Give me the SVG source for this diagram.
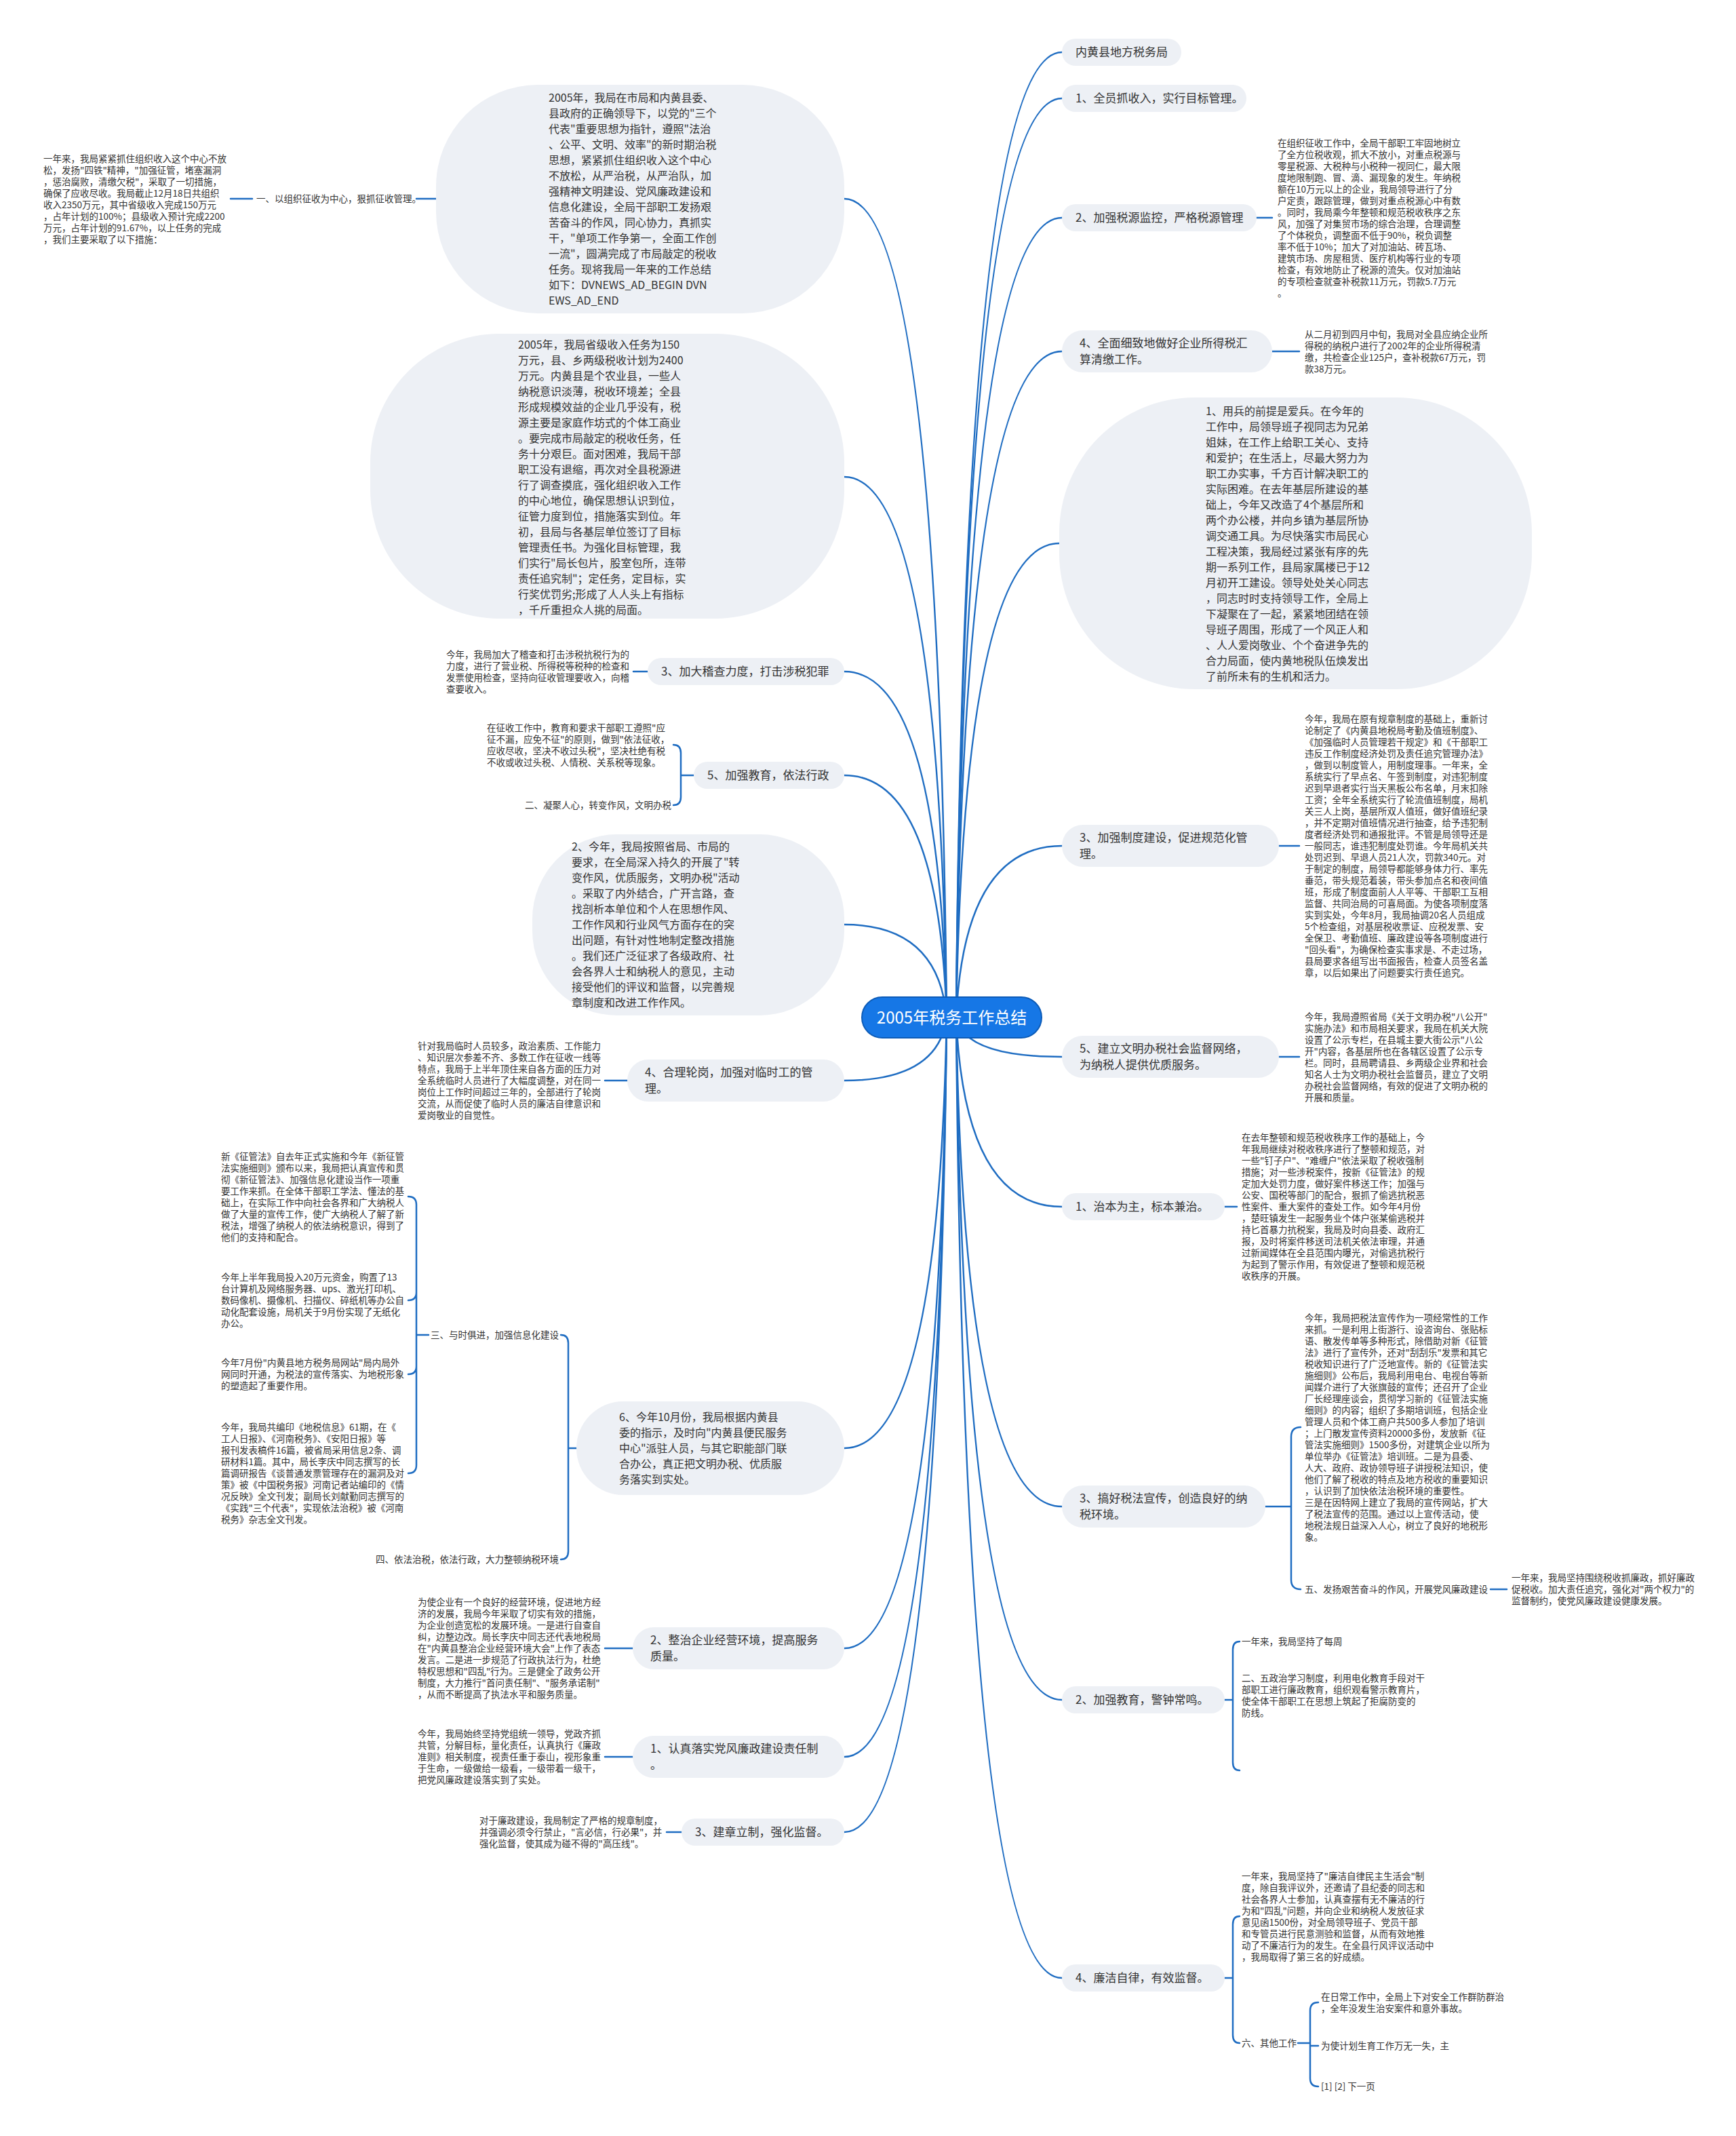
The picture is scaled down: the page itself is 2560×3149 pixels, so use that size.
<svg xmlns="http://www.w3.org/2000/svg" width="2560" height="3149" viewBox="0 0 2560 3149">
<style>
text{font-family:"Noto Sans CJK SC","Noto Sans",sans-serif;fill:#333}
.ln{fill:none;stroke:#1f6dc2;stroke-width:2.5;stroke-linecap:round}
.nd{fill:#edf0f5}
.lb{font-size:17px}
.bt{font-size:16px}
.st{font-size:13.5px}
</style>
<rect width="2560" height="3149" fill="#ffffff"/>
<g id="connectors">
<path class="ln" d="M1410 1500 Q1422 77 1566 77"/>
<path class="ln" d="M1410 1500 Q1422 145 1566 145"/>
<path class="ln" d="M1410 1500 Q1422 321 1566 321"/>
<path class="ln" d="M1410 1500 Q1422 518 1566 518"/>
<path class="ln" d="M1410 1500 Q1422 801 1562 801"/>
<path class="ln" d="M1410 1500 Q1422 1247 1566 1247"/>
<path class="ln" d="M1410 1500 Q1422 1558 1566 1558"/>
<path class="ln" d="M1410 1500 Q1422 1779 1566 1779"/>
<path class="ln" d="M1410 1500 Q1422 2221 1566 2221"/>
<path class="ln" d="M1410 1500 Q1422 2506 1566 2506"/>
<path class="ln" d="M1410 1500 Q1422 2916 1566 2916"/>
<path class="ln" d="M1396 1500 Q1384 293 1245 293"/>
<path class="ln" d="M1396 1500 Q1384 703 1245 703"/>
<path class="ln" d="M1396 1500 Q1384 990 1245 990"/>
<path class="ln" d="M1396 1500 Q1384 1143 1245 1143"/>
<path class="ln" d="M1396 1500 Q1384 1363 1245 1363"/>
<path class="ln" d="M1396 1500 Q1384 1593 1245 1593"/>
<path class="ln" d="M1396 1500 Q1384 2135 1245 2135"/>
<path class="ln" d="M1396 1500 Q1384 2430 1245 2430"/>
<path class="ln" d="M1396 1500 Q1384 2590 1245 2590"/>
<path class="ln" d="M1396 1500 Q1384 2701 1245 2701"/>
<path class="ln" d="M1853 321 H1876"/>
<path class="ln" d="M1876 518 H1916"/>
<path class="ln" d="M1886 1247 H1916"/>
<path class="ln" d="M1886 1558 H1916"/>
<path class="ln" d="M1806 1779 H1824"/>
<path class="ln" d="M1866 2221 H1904 M1918 2104 Q1904 2104 1904 2118 V2329 Q1904 2343 1918 2343"/>
<path class="ln" d="M2198 2343 H2222"/>
<path class="ln" d="M1806 2506 H1818 M1828 2420 Q1818 2420 1818 2432 V2598 Q1818 2610 1828 2610"/>
<path class="ln" d="M1806 2916 H1818 M1828 2825 Q1818 2825 1818 2837 V3000 Q1818 3012 1828 3012"/>
<path class="ln" d="M1914 3012 H1932 M1944 2952 Q1932 2952 1932 2964 V3064 Q1932 3076 1944 3076 M1932 3016 H1944"/>
<path class="ln" d="M643 293 H614"/>
<path class="ln" d="M372 293 H340"/>
<path class="ln" d="M955 990 H934"/>
<path class="ln" d="M1023 1143 H1004 M993 1098 Q1004 1098 1004 1110 V1175 Q1004 1187 993 1187"/>
<path class="ln" d="M925 1593 H892"/>
<path class="ln" d="M850 2135 H838 M827 1968 Q838 1968 838 1980 V2287 Q838 2299 827 2299"/>
<path class="ln" d="M632 1968 H614 M602 1764 Q614 1764 614 1776 V2160 Q614 2172 602 2172 M614 1905 Q614 1917 602 1917 M614 2014 Q614 2026 602 2026"/>
<path class="ln" d="M933 2430 H892"/>
<path class="ln" d="M933 2590 H892"/>
<path class="ln" d="M1005 2701 H983"/>
</g>
<g id="center">
<rect x="1271" y="1470" width="265" height="60" rx="30" fill="#1677e6" stroke="#0d5cb8" stroke-width="2"/>
<text x="1403.5" y="1509" font-size="24" text-anchor="middle" style="fill:#ffffff">2005年税务工作总结</text>
</g>
<g id="r1"><rect class="nd" x="1566" y="57" width="176" height="40" rx="20"/><text class="lb" x="1586" y="83">内黄县地方税务局</text></g>
<g id="r2"><rect class="nd" x="1566" y="125" width="272" height="40" rx="20"/><text class="lb" x="1586" y="151">1、全员抓收入，实行目标管理。</text></g>
<g id="r3"><rect class="nd" x="1566" y="301" width="287" height="40" rx="20"/><text class="lb" x="1586" y="327">2、加强税源监控，严格税源管理</text>
<text class="st" x="1884" y="215.5"><tspan x="1884">在组织征收工作中，全局干部职工牢固地树立</tspan><tspan x="1884" dy="17">了全方位税收观，抓大不放小，对重点税源与</tspan><tspan x="1884" dy="17">零星税源、大税种与小税种一视同仁，最大限</tspan><tspan x="1884" dy="17">度地限制跑、冒、滴、漏现象的发生。年纳税</tspan><tspan x="1884" dy="17">额在10万元以上的企业，我局领导进行了分</tspan><tspan x="1884" dy="17">户定责，跟踪管理，做到对重点税源心中有数</tspan><tspan x="1884" dy="17">。同时，我局乘今年整顿和规范税收秩序之东</tspan><tspan x="1884" dy="17">风，加强了对集贸市场的综合治理，合理调整</tspan><tspan x="1884" dy="17">了个体税负，调整面不低于90%，税负调整</tspan><tspan x="1884" dy="17">率不低于10%；加大了对加油站、砖瓦场、</tspan><tspan x="1884" dy="17">建筑市场、房屋租赁、医疗机构等行业的专项</tspan><tspan x="1884" dy="17">检查，有效地防止了税源的流失。仅对加油站</tspan><tspan x="1884" dy="17">的专项检查就查补税款11万元，罚款5.7万元</tspan><tspan x="1884" dy="17">。</tspan></text></g>
<g id="r4"><rect class="nd" x="1566" y="487" width="310" height="62" rx="31"/><text class="lb" x="1592"><tspan x="1592" y="512">4、全面细致地做好企业所得税汇</tspan><tspan x="1592" y="536">算清缴工作。</tspan></text>
<text class="st" x="1924" y="497.5"><tspan x="1924">从二月初到四月中旬，我局对全县应纳企业所</tspan><tspan x="1924" dy="17">得税的纳税户进行了2002年的企业所得税清</tspan><tspan x="1924" dy="17">缴，共检查企业125户，查补税款67万元，罚</tspan><tspan x="1924" dy="17">款38万元。</tspan></text></g>
<g id="r5"><rect class="nd" x="1562" y="586" width="697" height="430" rx="200"/>
<text class="bt" x="1778" y="611.5"><tspan x="1778">1、用兵的前提是爱兵。在今年的</tspan><tspan x="1778" dy="23">工作中，局领导班子视同志为兄弟</tspan><tspan x="1778" dy="23">姐妹，在工作上给职工关心、支持</tspan><tspan x="1778" dy="23">和爱护；在生活上，尽最大努力为</tspan><tspan x="1778" dy="23">职工办实事，千方百计解决职工的</tspan><tspan x="1778" dy="23">实际困难。在去年基层所建设的基</tspan><tspan x="1778" dy="23">础上，今年又改造了4个基层所和</tspan><tspan x="1778" dy="23">两个办公楼，并向乡镇为基层所协</tspan><tspan x="1778" dy="23">调交通工具。为尽快落实市局民心</tspan><tspan x="1778" dy="23">工程决策，我局经过紧张有序的先</tspan><tspan x="1778" dy="23">期一系列工作，县局家属楼已于12</tspan><tspan x="1778" dy="23">月初开工建设。领导处处关心同志</tspan><tspan x="1778" dy="23">，同志时时支持领导工作，全局上</tspan><tspan x="1778" dy="23">下凝聚在了一起，紧紧地团结在领</tspan><tspan x="1778" dy="23">导班子周围，形成了一个风正人和</tspan><tspan x="1778" dy="23">、人人爱岗敬业、个个奋进争先的</tspan><tspan x="1778" dy="23">合力局面，使内黄地税队伍焕发出</tspan><tspan x="1778" dy="23">了前所未有的生机和活力。</tspan></text></g>
<g id="r6"><rect class="nd" x="1566" y="1216" width="320" height="62" rx="31"/><text class="lb"><tspan x="1592" y="1241">3、加强制度建设，促进规范化管</tspan><tspan x="1592" y="1265">理。</tspan></text>
<text class="st" x="1924" y="1065"><tspan x="1924">今年，我局在原有规章制度的基础上，重新讨</tspan><tspan x="1924" dy="17">论制定了《内黄县地税局考勤及值班制度》、</tspan><tspan x="1924" dy="17">《加强临时人员管理若干规定》和《干部职工</tspan><tspan x="1924" dy="17">违反工作制度经济处罚及责任追究管理办法》</tspan><tspan x="1924" dy="17">，做到以制度管人，用制度理事。一年来，全</tspan><tspan x="1924" dy="17">系统实行了早点名、午签到制度，对违犯制度</tspan><tspan x="1924" dy="17">迟到早退者实行当天黑板公布名单，月末扣除</tspan><tspan x="1924" dy="17">工资；全年全系统实行了轮流值班制度，局机</tspan><tspan x="1924" dy="17">关三人上岗，基层所双人值班，做好值班纪录</tspan><tspan x="1924" dy="17">，并不定期对值班情况进行抽查，给予违犯制</tspan><tspan x="1924" dy="17">度者经济处罚和通报批评。不管是局领导还是</tspan><tspan x="1924" dy="17">一般同志，谁违犯制度处罚谁。今年局机关共</tspan><tspan x="1924" dy="17">处罚迟到、早退人员21人次，罚款340元。对</tspan><tspan x="1924" dy="17">于制定的制度，局领导都能够身体力行、率先</tspan><tspan x="1924" dy="17">垂范，带头规范着装，带头参加点名和夜间值</tspan><tspan x="1924" dy="17">班，形成了制度面前人人平等、干部职工互相</tspan><tspan x="1924" dy="17">监督、共同治局的可喜局面。为使各项制度落</tspan><tspan x="1924" dy="17">实到实处，今年8月，我局抽调20名人员组成</tspan><tspan x="1924" dy="17">5个检查组，对基层税收票证、应税发票、安</tspan><tspan x="1924" dy="17">全保卫、考勤值班、廉政建设等各项制度进行</tspan><tspan x="1924" dy="17">"回头看"，为确保检查实事求是、不走过场，</tspan><tspan x="1924" dy="17">县局要求各组写出书面报告，检查人员签名盖</tspan><tspan x="1924" dy="17">章，以后如果出了问题要实行责任追究。</tspan></text></g>
<g id="r7"><rect class="nd" x="1566" y="1527" width="320" height="62" rx="31"/><text class="lb"><tspan x="1592" y="1552">5、建立文明办税社会监督网络，</tspan><tspan x="1592" y="1576">为纳税人提供优质服务。</tspan></text>
<text class="st" x="1924" y="1503.5"><tspan x="1924">今年，我局遵照省局《关于文明办税"八公开"</tspan><tspan x="1924" dy="17">实施办法》和市局相关要求，我局在机关大院</tspan><tspan x="1924" dy="17">设置了公示专栏，在县城主要大街公示"八公</tspan><tspan x="1924" dy="17">开"内容，各基层所也在各辖区设置了公示专</tspan><tspan x="1924" dy="17">栏。同时，县局聘请县、乡两级企业界和社会</tspan><tspan x="1924" dy="17">知名人士为文明办税社会监督员，建立了文明</tspan><tspan x="1924" dy="17">办税社会监督网络，有效的促进了文明办税的</tspan><tspan x="1924" dy="17">开展和质量。</tspan></text></g>
<g id="r8"><rect class="nd" x="1566" y="1759" width="240" height="40" rx="20"/><text class="lb" x="1586" y="1785">1、治本为主，标本兼治。</text>
<text class="st" x="1831" y="1682"><tspan x="1831">在去年整顿和规范税收秩序工作的基础上，今</tspan><tspan x="1831" dy="17">年我局继续对税收秩序进行了整顿和规范，对</tspan><tspan x="1831" dy="17">一些"钉子户"、"难缠户"依法采取了税收强制</tspan><tspan x="1831" dy="17">措施；对一些涉税案件，按新《征管法》的规</tspan><tspan x="1831" dy="17">定加大处罚力度，做好案件移送工作；加强与</tspan><tspan x="1831" dy="17">公安、国税等部门的配合，狠抓了偷逃抗税恶</tspan><tspan x="1831" dy="17">性案件、重大案件的查处工作。如今年4月份</tspan><tspan x="1831" dy="17">，楚旺镇发生一起服务业个体户张某偷逃税并</tspan><tspan x="1831" dy="17">持匕首暴力抗税案，我局及时向县委、政府汇</tspan><tspan x="1831" dy="17">报，及时将案件移送司法机关依法审理，并通</tspan><tspan x="1831" dy="17">过新闻媒体在全县范围内曝光，对偷逃抗税行</tspan><tspan x="1831" dy="17">为起到了警示作用，有效促进了整顿和规范税</tspan><tspan x="1831" dy="17">收秩序的开展。</tspan></text></g>
<g id="r9"><rect class="nd" x="1566" y="2190" width="300" height="62" rx="31"/><text class="lb"><tspan x="1592" y="2215">3、搞好税法宣传，创造良好的纳</tspan><tspan x="1592" y="2239">税环境。</tspan></text>
<text class="st" x="1924" y="1947.5"><tspan x="1924">今年，我局把税法宣传作为一项经常性的工作</tspan><tspan x="1924" dy="17">来抓。一是利用上街游行、设咨询台、张贴标</tspan><tspan x="1924" dy="17">语、散发传单等多种形式，除借助对新《征管</tspan><tspan x="1924" dy="17">法》进行了宣传外，还对"刮刮乐"发票和其它</tspan><tspan x="1924" dy="17">税收知识进行了广泛地宣传。新的《征管法实</tspan><tspan x="1924" dy="17">施细则》公布后，我局利用电台、电视台等新</tspan><tspan x="1924" dy="17">闻媒介进行了大张旗鼓的宣传；还召开了企业</tspan><tspan x="1924" dy="17">厂长经理座谈会，贯彻学习新的《征管法实施</tspan><tspan x="1924" dy="17">细则》的内容；组织了多期培训班，包括企业</tspan><tspan x="1924" dy="17">管理人员和个体工商户共500多人参加了培训</tspan><tspan x="1924" dy="17">；上门散发宣传资料20000多份，发放新《征</tspan><tspan x="1924" dy="17">管法实施细则》1500多份，对建筑企业以所为</tspan><tspan x="1924" dy="17">单位举办《征管法》培训班。二是为县委、</tspan><tspan x="1924" dy="17">人大、政府、政协领导班子讲授税法知识，使</tspan><tspan x="1924" dy="17">他们了解了税收的特点及地方税收的重要知识</tspan><tspan x="1924" dy="17">，认识到了加快依法治税环境的重要性。</tspan><tspan x="1924" dy="17">三是在因特网上建立了我局的宣传网站，扩大</tspan><tspan x="1924" dy="17">了税法宣传的范围。通过以上宣传活动，使</tspan><tspan x="1924" dy="17">地税法规日益深入人心，树立了良好的地税形</tspan><tspan x="1924" dy="17">象。</tspan></text>
<text class="st" x="1924" y="2348">五、发扬艰苦奋斗的作风，开展党风廉政建设</text>
<text class="st" x="2229" y="2331"><tspan x="2229">一年来，我局坚持围绕税收抓廉政，抓好廉政</tspan><tspan x="2229" dy="17">促税收。加大责任追究，强化对"两个权力"的</tspan><tspan x="2229" dy="17">监督制约，使党风廉政建设健康发展。</tspan></text></g>
<g id="r10"><rect class="nd" x="1566" y="2486" width="240" height="40" rx="20"/><text class="lb" x="1586" y="2512">2、加强教育，警钟常鸣。</text>
<text class="st" x="1831" y="2425">一年来，我局坚持了每周</text>
<text class="st" x="1831" y="2479"><tspan x="1831">二、五政治学习制度，利用电化教育手段对干</tspan><tspan x="1831" dy="17">部职工进行廉政教育，组织观看警示教育片，</tspan><tspan x="1831" dy="17">使全体干部职工在思想上筑起了拒腐防变的</tspan><tspan x="1831" dy="17">防线。</tspan></text></g>
<g id="r11"><rect class="nd" x="1566" y="2896" width="240" height="40" rx="20"/><text class="lb" x="1586" y="2922">4、廉洁自律，有效监督。</text>
<text class="st" x="1831" y="2770.5"><tspan x="1831">一年来，我局坚持了"廉洁自律民主生活会"制</tspan><tspan x="1831" dy="17">度，除自我评议外，还邀请了县纪委的同志和</tspan><tspan x="1831" dy="17">社会各界人士参加，认真查摆有无不廉洁的行</tspan><tspan x="1831" dy="17">为和"四乱"问题，并向企业和纳税人发放征求</tspan><tspan x="1831" dy="17">意见函1500份，对全局领导班子、党员干部</tspan><tspan x="1831" dy="17">和专管员进行民意测验和监督，从而有效地推</tspan><tspan x="1831" dy="17">动了不廉洁行为的发生。在全县行风评议活动中</tspan><tspan x="1831" dy="17">，我局取得了第三名的好成绩。</tspan></text>
<text class="st" x="1831" y="3017">六、其他工作</text>
<text class="st" x="1948" y="2948.5"><tspan x="1948">在日常工作中，全局上下对安全工作群防群治</tspan><tspan x="1948" dy="17">，全年没发生治安案件和意外事故。</tspan></text>
<text class="st" x="1948" y="3021">为使计划生育工作万无一失，主</text>
<text class="st" x="1948" y="3081">[1] [2] 下一页</text></g>
<g id="l1"><rect class="nd" x="643" y="125" width="602" height="337" rx="150"/>
<text class="bt" x="809" y="149.5"><tspan x="809">2005年，我局在市局和内黄县委、</tspan><tspan x="809" dy="23">县政府的正确领导下，以党的"三个</tspan><tspan x="809" dy="23">代表"重要思想为指针，遵照"法治</tspan><tspan x="809" dy="23">、公平、文明、效率"的新时期治税</tspan><tspan x="809" dy="23">思想，紧紧抓住组织收入这个中心</tspan><tspan x="809" dy="23">不放松，从严治税，从严治队，加</tspan><tspan x="809" dy="23">强精神文明建设、党风廉政建设和</tspan><tspan x="809" dy="23">信息化建设，全局干部职工发扬艰</tspan><tspan x="809" dy="23">苦奋斗的作风，同心协力，真抓实</tspan><tspan x="809" dy="23">干，"单项工作争第一，全面工作创</tspan><tspan x="809" dy="23">一流"，圆满完成了市局敲定的税收</tspan><tspan x="809" dy="23">任务。现将我局一年来的工作总结</tspan><tspan x="809" dy="23">如下：DVNEWS_AD_BEGIN DVN</tspan><tspan x="809" dy="23">EWS_AD_END</tspan></text>
<text class="st" x="378" y="298">一、以组织征收为中心，狠抓征收管理。</text>
<text class="st" x="64" y="238.5"><tspan x="64">一年来，我局紧紧抓住组织收入这个中心不放</tspan><tspan x="64" dy="17">松，发扬"四铁"精神，"加强征管，堵塞漏洞</tspan><tspan x="64" dy="17">，惩治腐败，清缴欠税"，采取了一切措施，</tspan><tspan x="64" dy="17">确保了应收尽收。我局截止12月18日共组织</tspan><tspan x="64" dy="17">收入2350万元，其中省级收入完成150万元</tspan><tspan x="64" dy="17">，占年计划的100%；县级收入预计完成2200</tspan><tspan x="64" dy="17">万元，占年计划的91.67%，以上任务的完成</tspan><tspan x="64" dy="17">，我们主要采取了以下措施：</tspan></text></g>
<g id="l2"><rect class="nd" x="546" y="492" width="699" height="420" rx="190"/>
<text class="bt" x="764" y="513.5"><tspan x="764">2005年，我局省级收入任务为150</tspan><tspan x="764" dy="23">万元，县、乡两级税收计划为2400</tspan><tspan x="764" dy="23">万元。内黄县是个农业县，一些人</tspan><tspan x="764" dy="23">纳税意识淡薄，税收环境差；全县</tspan><tspan x="764" dy="23">形成规模效益的企业几乎没有，税</tspan><tspan x="764" dy="23">源主要是家庭作坊式的个体工商业</tspan><tspan x="764" dy="23">。要完成市局敲定的税收任务，任</tspan><tspan x="764" dy="23">务十分艰巨。面对困难，我局干部</tspan><tspan x="764" dy="23">职工没有退缩，再次对全县税源进</tspan><tspan x="764" dy="23">行了调查摸底，强化组织收入工作</tspan><tspan x="764" dy="23">的中心地位，确保思想认识到位，</tspan><tspan x="764" dy="23">征管力度到位，措施落实到位。年</tspan><tspan x="764" dy="23">初，县局与各基层单位签订了目标</tspan><tspan x="764" dy="23">管理责任书。为强化目标管理，我</tspan><tspan x="764" dy="23">们实行"局长包片，股室包所，连带</tspan><tspan x="764" dy="23">责任追究制"；定任务，定目标，实</tspan><tspan x="764" dy="23">行奖优罚劣;形成了人人头上有指标</tspan><tspan x="764" dy="23">，千斤重担众人挑的局面。</tspan></text></g>
<g id="l3"><rect class="nd" x="955" y="970" width="290" height="40" rx="20"/><text class="lb" x="975" y="996">3、加大稽查力度，打击涉税犯罪</text>
<text class="st" x="658" y="969.5"><tspan x="658">今年，我局加大了稽查和打击涉税抗税行为的</tspan><tspan x="658" dy="17">力度，进行了营业税、所得税等税种的检查和</tspan><tspan x="658" dy="17">发票使用检查，坚持向征收管理要收入，向稽</tspan><tspan x="658" dy="17">查要收入。</tspan></text></g>
<g id="l4"><rect class="nd" x="1023" y="1123" width="222" height="40" rx="20"/><text class="lb" x="1043" y="1149">5、加强教育，依法行政</text>
<text class="st" x="718" y="1077.5"><tspan x="718">在征收工作中，教育和要求干部职工遵照"应</tspan><tspan x="718" dy="17">征不漏，应免不征"的原则，做到"依法征收，</tspan><tspan x="718" dy="17">应收尽收，坚决不收过头税"，坚决杜绝有税</tspan><tspan x="718" dy="17">不收或收过头税、人情税、关系税等现象。</tspan></text>
<text class="st" x="774" y="1192">二、凝聚人心，转变作风，文明办税</text></g>
<g id="l5"><rect class="nd" x="785" y="1230" width="460" height="267" rx="125"/>
<text class="bt" x="843" y="1254"><tspan x="843">2、今年，我局按照省局、市局的</tspan><tspan x="843" dy="23">要求，在全局深入持久的开展了"转</tspan><tspan x="843" dy="23">变作风，优质服务，文明办税"活动</tspan><tspan x="843" dy="23">。采取了内外结合，广开言路，查</tspan><tspan x="843" dy="23">找剖析本单位和个人在思想作风、</tspan><tspan x="843" dy="23">工作作风和行业风气方面存在的突</tspan><tspan x="843" dy="23">出问题，有针对性地制定整改措施</tspan><tspan x="843" dy="23">。我们还广泛征求了各级政府、社</tspan><tspan x="843" dy="23">会各界人士和纳税人的意见，主动</tspan><tspan x="843" dy="23">接受他们的评议和监督，以完善规</tspan><tspan x="843" dy="23">章制度和改进工作作风。</tspan></text></g>
<g id="l6"><rect class="nd" x="925" y="1562" width="320" height="62" rx="31"/><text class="lb"><tspan x="951" y="1587">4、合理轮岗，加强对临时工的管</tspan><tspan x="951" y="1611">理。</tspan></text>
<text class="st" x="616" y="1547"><tspan x="616">针对我局临时人员较多，政治素质、工作能力</tspan><tspan x="616" dy="17">、知识层次参差不齐、多数工作在征收一线等</tspan><tspan x="616" dy="17">特点，我局于上半年顶住来自各方面的压力对</tspan><tspan x="616" dy="17">全系统临时人员进行了大幅度调整，对在同一</tspan><tspan x="616" dy="17">岗位上工作时间超过三年的，全部进行了轮岗</tspan><tspan x="616" dy="17">交流，从而促使了临时人员的廉洁自律意识和</tspan><tspan x="616" dy="17">爱岗敬业的自觉性。</tspan></text></g>
<g id="l7"><rect class="nd" x="850" y="2066" width="395" height="138" rx="69"/>
<text class="bt" x="913" y="2095"><tspan x="913">6、今年10月份，我局根据内黄县</tspan><tspan x="913" dy="23">委的指示，及时向"内黄县便民服务</tspan><tspan x="913" dy="23">中心"派驻人员，与其它职能部门联</tspan><tspan x="913" dy="23">合办公，真正把文明办税、优质服</tspan><tspan x="913" dy="23">务落实到实处。</tspan></text>
<text class="st" x="635" y="1973">三、与时俱进，加强信息化建设</text>
<text class="st" x="554" y="2304">四、依法治税，依法行政，大力整顿纳税环境</text>
<text class="st" x="326" y="1709.5"><tspan x="326">新《征管法》自去年正式实施和今年《新征管</tspan><tspan x="326" dy="17">法实施细则》颁布以来，我局把认真宣传和贯</tspan><tspan x="326" dy="17">彻《新征管法》、加强信息化建设当作一项重</tspan><tspan x="326" dy="17">要工作来抓。在全体干部职工学法、懂法的基</tspan><tspan x="326" dy="17">础上，在实际工作中向社会各界和广大纳税人</tspan><tspan x="326" dy="17">做了大量的宣传工作，使广大纳税人了解了新</tspan><tspan x="326" dy="17">税法，增强了纳税人的依法纳税意识，得到了</tspan><tspan x="326" dy="17">他们的支持和配合。</tspan></text>
<text class="st" x="326" y="1888"><tspan x="326">今年上半年我局投入20万元资金，购置了13</tspan><tspan x="326" dy="17">台计算机及网络服务器、ups、激光打印机、</tspan><tspan x="326" dy="17">数码像机、摄像机、扫描仪、碎纸机等办公自</tspan><tspan x="326" dy="17">动化配套设施，局机关于9月份实现了无纸化</tspan><tspan x="326" dy="17">办公。</tspan></text>
<text class="st" x="326" y="2014"><tspan x="326">今年7月份"内黄县地方税务局网站"局内局外</tspan><tspan x="326" dy="17">网同时开通，为税法的宣传落实、为地税形象</tspan><tspan x="326" dy="17">的塑造起了重要作用。</tspan></text>
<text class="st" x="326" y="2109"><tspan x="326">今年，我局共编印《地税信息》61期，在《</tspan><tspan x="326" dy="17">工人日报》、《河南税务》、《安阳日报》等</tspan><tspan x="326" dy="17">报刊发表稿件16篇，被省局采用信息2条、调</tspan><tspan x="326" dy="17">研材料1篇。其中，局长李庆中同志撰写的长</tspan><tspan x="326" dy="17">篇调研报告《谈普通发票管理存在的漏洞及对</tspan><tspan x="326" dy="17">策》被《中国税务报》河南记者站编印的《情</tspan><tspan x="326" dy="17">况反映》全文刊发；副局长刘献勤同志撰写的</tspan><tspan x="326" dy="17">《实践"三个代表"，实现依法治税》被《河南</tspan><tspan x="326" dy="17">税务》杂志全文刊发。</tspan></text></g>
<g id="l8"><rect class="nd" x="933" y="2399" width="312" height="62" rx="31"/><text class="lb"><tspan x="959" y="2424">2、整治企业经营环境，提高服务</tspan><tspan x="959" y="2448">质量。</tspan></text>
<text class="st" x="616" y="2367"><tspan x="616">为使企业有一个良好的经营环境，促进地方经</tspan><tspan x="616" dy="17">济的发展，我局今年采取了切实有效的措施，</tspan><tspan x="616" dy="17">为企业创造宽松的发展环境。一是进行自查自</tspan><tspan x="616" dy="17">纠，边整边改。局长李庆中同志还代表地税局</tspan><tspan x="616" dy="17">在"内黄县整治企业经营环境大会"上作了表态</tspan><tspan x="616" dy="17">发言。二是进一步规范了行政执法行为，杜绝</tspan><tspan x="616" dy="17">特权思想和"四乱"行为。三是健全了政务公开</tspan><tspan x="616" dy="17">制度，大力推行"首问责任制"、"服务承诺制"</tspan><tspan x="616" dy="17">，从而不断提高了执法水平和服务质量。</tspan></text></g>
<g id="l9"><rect class="nd" x="933" y="2559" width="312" height="62" rx="31"/><text class="lb"><tspan x="959" y="2584">1、认真落实党风廉政建设责任制</tspan><tspan x="959" y="2608">。</tspan></text>
<text class="st" x="616" y="2561"><tspan x="616">今年，我局始终坚持党组统一领导，党政齐抓</tspan><tspan x="616" dy="17">共管，分解目标，量化责任，认真执行《廉政</tspan><tspan x="616" dy="17">准则》相关制度，视责任重于泰山，视形象重</tspan><tspan x="616" dy="17">于生命，一级做给一级看，一级带着一级干，</tspan><tspan x="616" dy="17">把党风廉政建设落实到了实处。</tspan></text></g>
<g id="l10"><rect class="nd" x="1005" y="2681" width="240" height="40" rx="20"/><text class="lb" x="1025" y="2707">3、建章立制，强化监督。</text>
<text class="st" x="707" y="2689"><tspan x="707">对于廉政建设，我局制定了严格的规章制度，</tspan><tspan x="707" dy="17">并强调必须令行禁止，"言必信，行必果"，并</tspan><tspan x="707" dy="17">强化监督，使其成为碰不得的"高压线"。</tspan></text></g>
</svg>
